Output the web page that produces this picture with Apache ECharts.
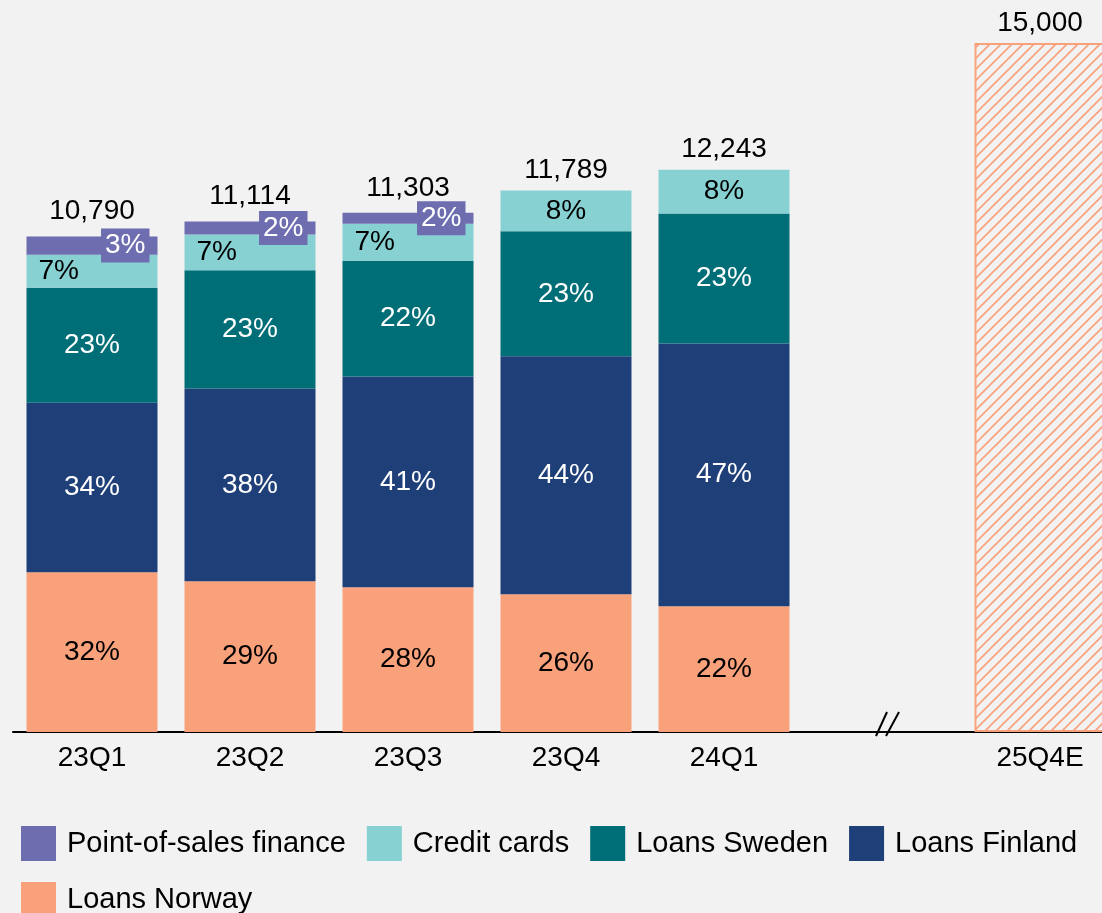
<!DOCTYPE html>
<html>
<head>
<meta charset="utf-8">
<script src="https://cdn.jsdelivr.net/npm/echarts@6/dist/echarts.min.js"></script>
<style>
html,body{margin:0;padding:0;background:#f2f2f2;}
#main{width:1102px;height:913px;}
</style>
</head>
<body>
<div id="main"></div>
<script>
// categories (index 5 is the empty gap slot with the axis break)
var categories = ['23Q1', '23Q2', '23Q3', '23Q4', '24Q1', '', '25Q4E'];
var totals = [10790, 11114, 11303, 11789, 12243, '-', 15000];

// segment amounts
var loansNorway  = [3480, 3280, 3150, 3000, 2740, '-', '-'];
var loansFinland = [3690, 4200, 4590, 5180, 5720, '-', '-'];
var loansSweden  = [2500, 2570, 2520, 2720, 2826, '-', '-'];
var creditCards  = [720, 780, 805, 889, 957, '-', '-'];
var posFinance   = [400, 284, 238, '-', '-', '-', '-'];

// share labels as printed on the bars
var pctNorway  = ['32%', '29%', '28%', '26%', '22%'];
var pctFinland = ['34%', '38%', '41%', '44%', '47%'];
var pctSweden  = ['23%', '23%', '22%', '23%', '23%'];
var pctCredit  = ['7%', '7%', '7%', '8%', '8%'];
var pctPos     = ['3%', '2%', '2%'];

var FONT = '"Liberation Sans", Arial, sans-serif';
var colPos = '#6e6daf', colCredit = '#87d1d3', colSweden = '#006e77', colFinland = '#1f3f79', colNorway = '#f9a17b';

var myChart = echarts.init(document.getElementById('main'));

// hatch tile for the estimate bar
function hatchCanvas(){
    var s = 11;
    var c = document.createElement('canvas');
    c.width = s; c.height = s;
    var ctx = c.getContext('2d');
    ctx.fillStyle = '#f2f2f2';
    ctx.fillRect(0, 0, s, s);
    ctx.strokeStyle = colNorway;
    ctx.lineWidth = 1.6;
    ctx.beginPath();
    ctx.moveTo(-1, s + 1); ctx.lineTo(s + 1, -1);
    ctx.moveTo(-2, 2); ctx.lineTo(2, -2);
    ctx.moveTo(s - 2, s + 2); ctx.lineTo(s + 2, s - 2);
    ctx.stroke();
    return c;
}

function segLabel(texts, color, extra){
    var l = {
        show: true,
        position: 'inside',
        color: color,
        fontFamily: FONT,
        fontSize: 28,
        formatter: function(p){ return texts[p.dataIndex] || ''; }
    };
    if(extra) Object.assign(l, extra);
    return l;
}

function stackSeries(name, data, color, label){
    return {
        name: name,
        type: 'bar',
        stack: 'a',
        barWidth: 131,
        data: data,
        itemStyle: {color: color},
        label: label,
        emphasis: {disabled: true}
    };
}

// credit card labels sit left when a POS box is shown on the right
var creditData = creditCards.map(function(v, i){
    if(i < 3){
        return {value: v, label: {position: 'insideLeft', distance: 12}};
    }
    return v;
});

var totalData = totals.map(function(v, i){
    if(v === '-') return v;
    if(i === 6){
        return {
            value: v,
            itemStyle: {
                color: {image: hatchCanvas(), repeat: 'repeat'},
                borderColor: colNorway,
                borderWidth: 2
            }
        };
    }
    return {value: v, label: {distance: i < 3 ? 11 : 6}};
});

var option = {
    backgroundColor: '#f2f2f2',
    animation: false,
    grid: {left: 13, width: 1106, top: 43, bottom: 181, outerBoundsMode: 'none', containLabel: false},
    legend: {
        data: ['Point-of-sales finance', 'Credit cards', 'Loans Sweden', 'Loans Finland', 'Loans Norway'],
        left: 21,
        top: 826,
        width: 1075,
        padding: 0,
        icon: 'rect',
        itemWidth: 35,
        itemHeight: 35,
        itemGap: 21,
        textStyle: {fontFamily: FONT, fontSize: 29, color: '#000', padding: [0, 2, 0, 6]}
    },
    xAxis: {
        type: 'category',
        data: categories,
        axisLine: {lineStyle: {color: '#000', width: 2}},
        axisTick: {show: false},
        axisLabel: {fontFamily: FONT, fontSize: 28, color: '#000', margin: 12, interval: 0}
    },
    yAxis: {
        type: 'value',
        min: 0,
        max: 15000,
        show: false,
        splitLine: {show: false}
    },
    series: [
        stackSeries('Loans Norway', loansNorway, colNorway, segLabel(pctNorway, '#000')),
        stackSeries('Loans Finland', loansFinland, colFinland, segLabel(pctFinland, '#fff')),
        stackSeries('Loans Sweden', loansSweden, colSweden, segLabel(pctSweden, '#fff')),
        stackSeries('Credit cards', creditData, colCredit, segLabel(pctCredit, '#000')),
        stackSeries('Point-of-sales finance', posFinance, colPos, segLabel(pctPos, '#fff', {
            position: 'insideRight',
            distance: 8,
            backgroundColor: colPos,
            padding: [3, 4, 3, 4]
        })),
        {
            name: 'Total',
            type: 'bar',
            barWidth: 131,
            barGap: '-100%',
            data: totalData,
            itemStyle: {color: 'rgba(0,0,0,0)'},
            label: {
                show: true,
                position: 'top',
                distance: 6,
                color: '#000',
                fontFamily: FONT,
                fontSize: 28,
                formatter: function(p){ return echarts.format.addCommas(p.value); }
            },
            emphasis: {disabled: true},
            z: 1
        }
    ]
};
myChart.setOption(option);

// axis break mark in the empty slot
var p = myChart.convertToPixel({gridIndex: 0}, [5, 0]);
myChart.setOption({
    graphic: [
        {type: 'line', shape: {x1: p[0] - 6, y1: p[1] + 4, x2: p[0] + 5, y2: p[1] - 20}, style: {stroke: '#000', lineWidth: 2}, z: 100},
        {type: 'line', shape: {x1: p[0] + 4, y1: p[1] + 4, x2: p[0] + 17, y2: p[1] - 20}, style: {stroke: '#000', lineWidth: 2}, z: 100}
    ]
});
</script>
</body>
</html>
